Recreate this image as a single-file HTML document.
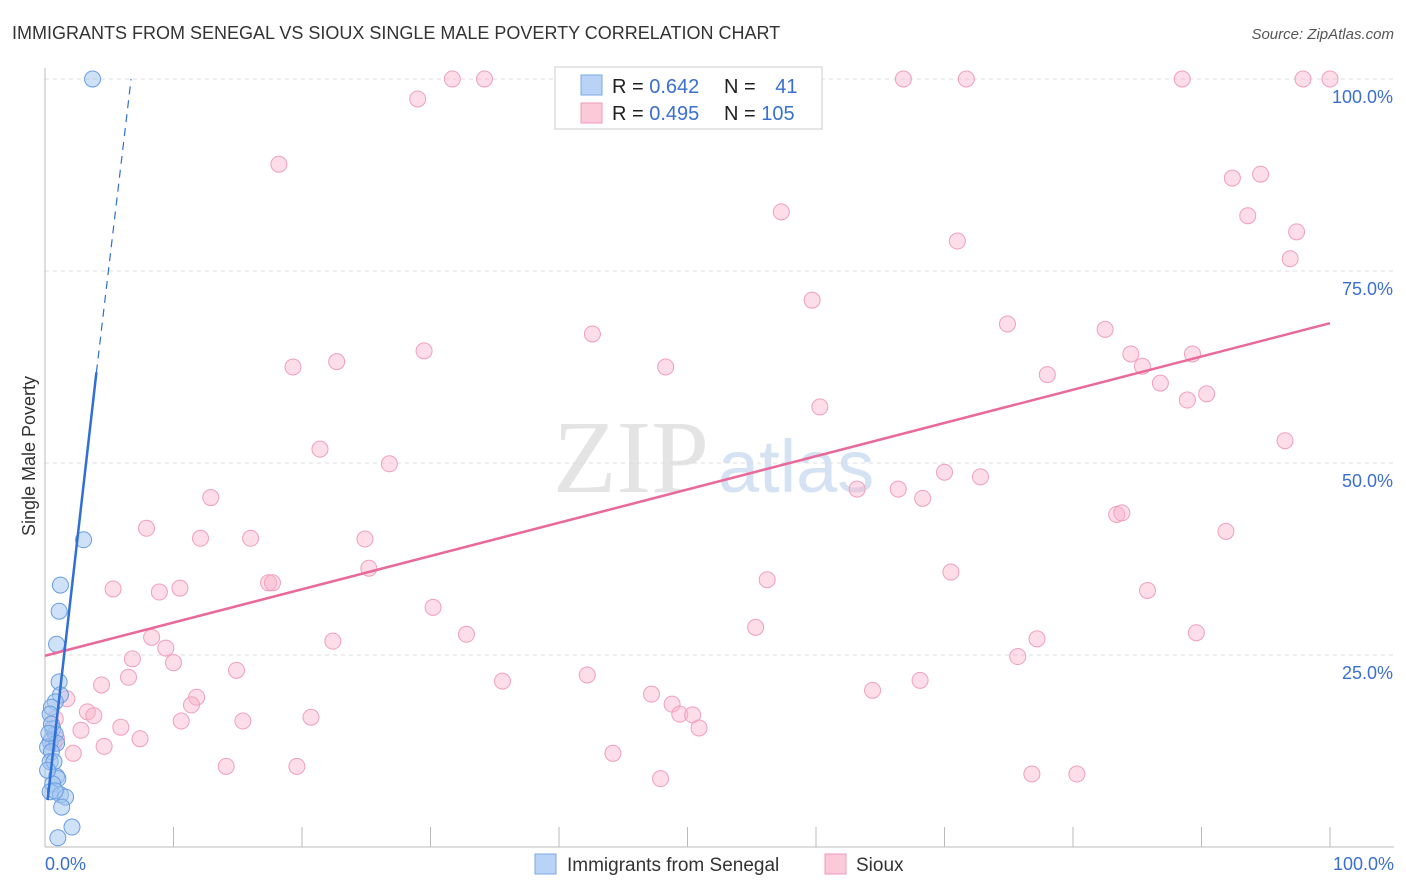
<!DOCTYPE html>
<html><head><meta charset="utf-8"><style>
body{margin:0;background:#fff;font-family:"Liberation Sans",sans-serif;}
#wrap{position:relative;width:1406px;height:892px;overflow:hidden;}
</style></head><body>
<div id="wrap">
<svg id="svg" width="1406" height="892" xmlns="http://www.w3.org/2000/svg">
<text x="12" y="39" font-size="18" fill="#333">IMMIGRANTS FROM SENEGAL VS SIOUX SINGLE MALE POVERTY CORRELATION CHART</text>
<text x="1394" y="39" font-size="15" fill="#555" font-style="italic" text-anchor="end">Source: ZipAtlas.com</text>
<text x="553" y="492" font-size="104" fill="#e4e4e4" font-family="Liberation Serif">ZIP</text>
<text x="718" y="492" font-size="74" fill="#d4e2f3">atlas</text>
<text x="35" y="456" font-size="18" fill="#333" text-anchor="middle" transform="rotate(-90 35 456)">Single Male Poverty</text>
<g id="grid"></g><g id="marks"></g>
<g>
<rect x="555" y="67" width="267" height="62" fill="#fff" stroke="#ccc"/>
<rect x="581" y="75" width="21" height="20" fill="#b8d3f5" stroke="#7aa9e6"/>
<rect x="581" y="103" width="21" height="20" fill="#fbc9d8" stroke="#f09ab5"/>
<text x="612" y="93" font-size="20" fill="#222">R = <tspan fill="#3a6fd0">0.642</tspan></text>
<text x="724" y="93" font-size="20" fill="#222">N = <tspan fill="#3a6fd0" dx="14">41</tspan></text>
<text x="612" y="120" font-size="20" fill="#222">R = <tspan fill="#3a6fd0">0.495</tspan></text>
<text x="724" y="120" font-size="20" fill="#222">N = <tspan fill="#3a6fd0">105</tspan></text>
</g>
<g>
<rect x="535" y="854" width="21" height="20" fill="#b8d3f5" stroke="#7aa9e6"/>
<text x="567" y="871" font-size="19" fill="#333">Immigrants from Senegal</text>
<rect x="825" y="854" width="21" height="20" fill="#fbc9d8" stroke="#f09ab5"/>
<text x="856" y="871" font-size="19" fill="#333">Sioux</text>
</g>
</svg>
</div>
<script>
const yTicks=[25,50,75,100];
const yTickLabels=["25.0%","50.0%","75.0%","100.0%"];
const xTickLabels=["0.0%","100.0%"];
const blueX=[3.7,3.0,1.2,1.1,0.9,1.1,1.2,0.8,0.5,0.4,0.6,0.8,0.4,0.9,0.2,0.5,0.4,0.9,1.0,0.6,0.4,1.2,1.6,1.3,2.1,1.0,0.5,0.3,0.7,0.2,0.8];
const blueY=[100,40.0,34.1,30.7,26.4,21.5,19.8,18.9,18.2,17.3,15.4,14.7,13.7,13.5,13.0,12.4,11.1,9.2,8.9,8.2,7.2,6.8,6.5,5.2,2.6,1.2,16.0,14.8,11.1,10.0,7.3];
const pinkX=[29.0,31.7,34.2,18.2,52.0,66.8,71.7,88.5,97.9,100,92.4,94.6,93.6,97.4,96.9,57.3,71.0,59.7,42.6,19.3,22.7,29.5,48.3,74.9,82.5,84.5,85.4,86.8,89.3,88.9,90.4,78.0,60.3,21.4,26.8,96.5,12.9,70.0,72.8,63.2,66.4,68.3,83.4,83.8,7.9,12.1,16.0,24.9,91.9,25.2,70.5,56.2,5.3,8.9,10.5,17.4,17.7,30.2,85.8,8.3,9.4,22.4,32.8,55.3,89.6,77.2,6.8,10.0,14.9,75.7,6.5,4.4,35.6,42.2,11.8,64.4,68.1,47.2,48.8,49.4,50.4,50.9,11.4,3.3,3.8,20.7,10.6,15.4,5.9,2.8,7.4,4.6,44.2,2.2,14.1,19.6,47.9,76.8,80.3,1.7,0.8,0.7,0.9];
const pinkY=[97.4,100,100,88.9,100,100,100,100,100,100,87.1,87.6,82.2,80.1,76.6,82.7,78.9,71.2,66.8,62.5,63.2,64.6,62.5,68.1,67.4,64.2,62.6,60.4,64.2,58.2,59.0,61.5,57.3,51.8,49.9,52.9,45.5,48.8,48.2,46.6,46.6,45.4,43.3,43.5,41.5,40.2,40.2,40.1,41.1,36.3,35.8,34.8,33.6,33.2,33.7,34.4,34.4,31.2,33.4,27.3,25.9,26.8,27.7,28.6,27.9,27.1,24.5,24.0,23.0,24.8,22.1,21.1,21.6,22.4,19.5,20.4,21.7,19.9,18.6,17.3,17.2,15.5,18.5,17.6,17.1,16.9,16.4,16.4,15.6,15.2,14.1,13.1,12.2,12.2,10.5,10.5,8.9,9.5,9.5,19.3,16.7,13.5,14.1];
const blueLine=[0.2,6.1,4.0,61.8,6.7,100];
const pinkLine=[0,24.9,100,68.2];

const X0=45,X1=1330,Y0=847,Y1=79;
const xs=v=>X0+(X1-X0)*v/100;
const ys=v=>Y0-(Y0-Y1)*v/100;
const NS="http://www.w3.org/2000/svg";
const grid=document.getElementById('grid'),marks=document.getElementById('marks');
function mk(tag,attrs,parent){const e=document.createElementNS(NS,tag);for(const k in attrs)e.setAttribute(k,attrs[k]);parent.appendChild(e);return e;}
yTicks.forEach((t,i)=>{
  const l=mk('line',{x1:45,x2:1394,y1:ys(t),y2:ys(t),stroke:'#ddd','stroke-dasharray':'4,4'},grid);
  
  
  const tx=mk('text',{x:1393,y:ys(t)+24,'font-size':18,fill:'#3a6fd0','text-anchor':'end'},grid);
  tx.textContent=yTickLabels[i];
  
  
});
let ax=mk('line',{x1:45,x2:45,y1:68,y2:847,stroke:'#bbb'},grid);


ax=mk('line',{x1:45,x2:1394,y1:847,y2:847,stroke:'#bbb'},grid);


for(let i=1;i<=10;i++){
  const t=mk('line',{x1:xs(i*10),x2:xs(i*10),y1:827,y2:847,stroke:'#bbb'},grid);
  
  
}
[[0,'start',45],[100,'end',1394]].forEach((d,i)=>{
  const tx=mk('text',{x:d[2],y:870,'font-size':18,fill:'#3a6fd0','text-anchor':d[1]},grid);
  tx.textContent=xTickLabels[i];
  
  
});
pinkX.forEach((v,i)=>{
  const c=mk('circle',{cx:xs(v),cy:ys(pinkY[i]),r:8,fill:'rgba(248,180,203,0.45)',stroke:'#f0a0ba','stroke-width':1},marks);
  
  
});
blueX.forEach((v,i)=>{
  const c=mk('circle',{cx:xs(v),cy:ys(blueY[i]),r:8,fill:'rgba(160,196,240,0.5)',stroke:'#6a9de0','stroke-width':1},marks);
  
  
});
let ln=mk('line',{x1:xs(pinkLine[0]),y1:ys(pinkLine[1]),x2:xs(pinkLine[2]),y2:ys(pinkLine[3]),stroke:'#e8699a','stroke-width':2.5},marks);


ln=mk('line',{x1:xs(blueLine[0]),y1:ys(blueLine[1]),x2:xs(blueLine[2]),y2:ys(blueLine[3]),stroke:'#2f6fd6','stroke-width':2.5},marks);


ln=mk('line',{x1:xs(blueLine[2]),y1:ys(blueLine[3]),x2:xs(blueLine[4]),y2:ys(blueLine[5]),stroke:'#2f6fd6','stroke-width':1.2,'stroke-dasharray':'8,6'},marks);


</script>
</body></html>
